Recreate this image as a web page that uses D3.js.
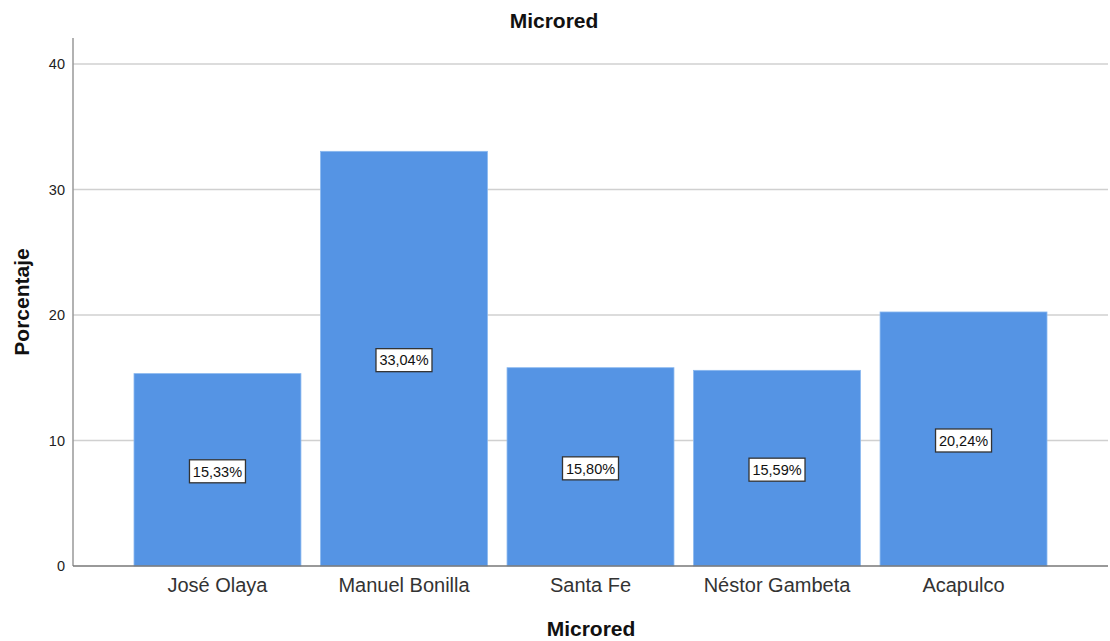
<!DOCTYPE html>
<html>
<head>
<meta charset="utf-8">
<script src="https://cdn.jsdelivr.net/npm/d3@7"></script>
<style>
  body { margin: 0; background: #fff; }
  text { font-family: "Liberation Sans", Arial, sans-serif; }
</style>
</head>
<body>
<div id="chart"></div>
<script>
// data
var categories = ["José Olaya", "Manuel Bonilla", "Santa Fe", "Néstor Gambeta", "Acapulco"];
var percents = [15.33, 33.04, 15.80, 15.59, 20.24];
var yTicks = [0, 10, 20, 30, 40];

var W = 1110, H = 641;
var plot = { left: 73, right: 1108, top: 38, bottom: 566 };

var svg = d3.select("#chart").append("svg")
    .attr("width", W)
    .attr("height", H);

var x = d3.scaleBand()
    .domain(categories)
    .range([134, 1047])
    .paddingInner(0.105)
    .paddingOuter(0);

var y = d3.scaleLinear()
    .domain([0, 42.07])
    .range([plot.bottom, plot.top]);

// gridlines
svg.append("g").selectAll("line")
    .data(yTicks.filter(function(d) { return d > 0; }))
    .enter().append("line")
    .attr("x1", plot.left)
    .attr("x2", plot.right)
    .attr("y1", function(d) { return y(d); })
    .attr("y2", function(d) { return y(d); })
    .attr("stroke", "#d0d0d0")
    .attr("stroke-width", 1.3);

// bars
svg.append("g").selectAll("rect")
    .data(percents)
    .enter().append("rect")
    .attr("x", function(d, i) { return x(categories[i]); })
    .attr("y", function(d) { return y(d); })
    .attr("width", x.bandwidth())
    .attr("height", function(d) { return y(0) - y(d); })
    .attr("fill", "#5594e4")
    .attr("stroke", "#8ab8ef")
    .attr("stroke-width", 0.8);

// y axis
var yAxis = svg.append("g")
    .attr("transform", "translate(" + plot.left + ",0)")
    .call(d3.axisLeft(y).tickValues(yTicks).tickSize(0).tickPadding(8));
yAxis.select(".domain").remove();
yAxis.selectAll("text")
    .style("font-size", "14.5px")
    .attr("fill", "#222");

svg.append("line")
    .attr("x1", plot.left).attr("x2", plot.left)
    .attr("y1", plot.top).attr("y2", plot.bottom)
    .attr("stroke", "#999")
    .attr("stroke-width", 1.5);

// x axis
var xAxis = svg.append("g")
    .attr("transform", "translate(0," + plot.bottom + ")")
    .call(d3.axisBottom(x).tickSize(0).tickPadding(12));
xAxis.select(".domain").remove();
xAxis.selectAll("text")
    .style("font-size", "20px")
    .attr("fill", "#333");

svg.append("line")
    .attr("x1", plot.left).attr("x2", plot.right)
    .attr("y1", plot.bottom).attr("y2", plot.bottom)
    .attr("stroke", "#777")
    .attr("stroke-width", 1.5);

// value labels in boxes
var labels = svg.append("g").selectAll("g")
    .data(percents)
    .enter().append("g")
    .attr("transform", function(d, i) {
      return "translate(" + (x(categories[i]) + x.bandwidth() / 2) + "," + (y(d / 2) + 1.5) + ")";
    });

labels.append("rect")
    .attr("x", -28)
    .attr("y", -11.5)
    .attr("width", 56)
    .attr("height", 23)
    .attr("fill", "#fff")
    .attr("stroke", "#333")
    .attr("stroke-width", 1.3);

labels.append("text")
    .attr("text-anchor", "middle")
    .attr("dy", "0.36em")
    .style("font-size", "14.5px")
    .attr("fill", "#111")
    .text(function(d) { return d.toFixed(2).replace(".", ",") + "%"; });

// titles
svg.append("text")
    .attr("x", 554)
    .attr("y", 28)
    .attr("text-anchor", "middle")
    .style("font-size", "21px")
    .style("font-weight", "bold")
    .attr("fill", "#111")
    .text("Microred");

svg.append("text")
    .attr("x", 591)
    .attr("y", 636)
    .attr("text-anchor", "middle")
    .style("font-size", "21px")
    .style("font-weight", "bold")
    .attr("fill", "#111")
    .text("Microred");

svg.append("text")
    .attr("transform", "translate(29,302) rotate(-90)")
    .attr("text-anchor", "middle")
    .style("font-size", "21px")
    .style("font-weight", "bold")
    .attr("fill", "#111")
    .text("Porcentaje");
</script>
</body>
</html>
